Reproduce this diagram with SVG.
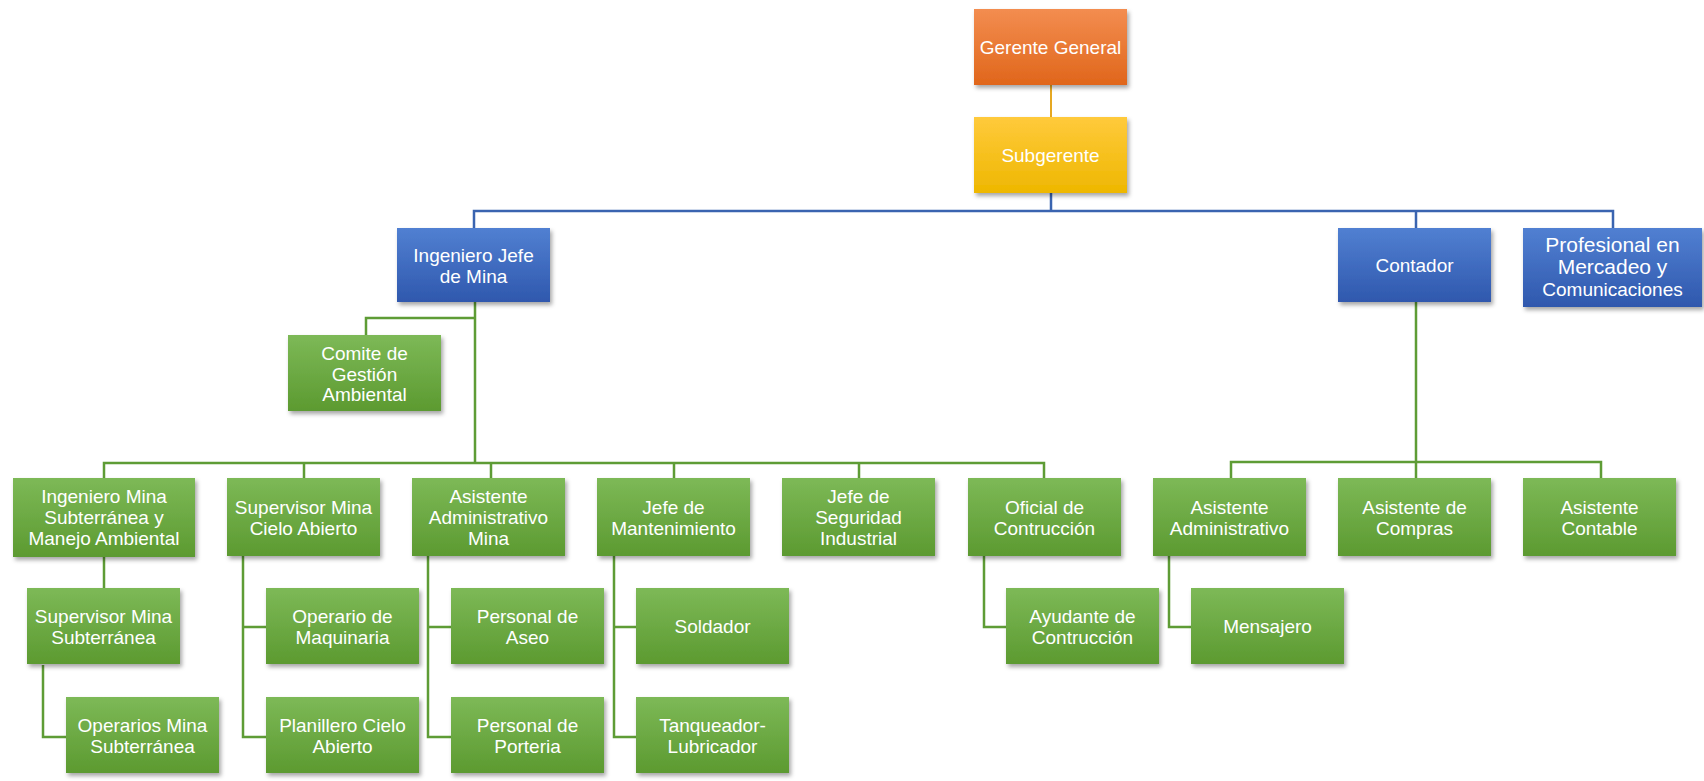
<svg xmlns="http://www.w3.org/2000/svg" width="1704" height="781" viewBox="0 0 1704 781">
<defs>
<linearGradient id="gGreen" x1="0" y1="0" x2="0" y2="1"><stop offset="0" stop-color="#7db957"/><stop offset="1" stop-color="#5c9a30"/></linearGradient>
<linearGradient id="gBlue" x1="0" y1="0" x2="0" y2="1"><stop offset="0" stop-color="#5180d2"/><stop offset="1" stop-color="#2f58ad"/></linearGradient>
<linearGradient id="gOrange" x1="0" y1="0" x2="0" y2="1"><stop offset="0" stop-color="#f38d50"/><stop offset="1" stop-color="#e0661b"/></linearGradient>
<linearGradient id="gYellow" x1="0" y1="0" x2="0" y2="1"><stop offset="0" stop-color="#ffca3c"/><stop offset="1" stop-color="#eeb700"/></linearGradient>
<filter id="sh" x="-10%" y="-10%" width="125%" height="130%"><feDropShadow dx="2" dy="3" stdDeviation="2" flood-color="#000" flood-opacity="0.35"/></filter>
</defs>
<style>
.box{filter:url(#sh)}
.green{fill:url(#gGreen)}
.blue{fill:url(#gBlue)}
.orange{fill:url(#gOrange)}
.yellow{fill:url(#gYellow)}
text{font-family:"Liberation Sans",Arial,sans-serif;font-size:19px;fill:#ffffff;text-anchor:middle}
.big{font-size:21px}
.cg{fill:none;stroke:#5e9c35;stroke-width:2.5}
.cb{fill:none;stroke:#3a64b0;stroke-width:2.5}
.co{fill:none;stroke:#e6a822;stroke-width:2}
</style>
<rect width="1704" height="781" fill="#ffffff"/>
<g id="connectors">
<path class="co" d="M1051 85V117"/>
<path class="cb" d="M1051 193V211M474 228V211H1613V228M1416 211V228"/>
<path class="cg" d="M475 302V463M475 318H366V335M104 478V463H1044V478M304 463V478M491 463V478M674 463V478M859 463V478"/>
<path class="cg" d="M1416 302V478M1231 478V462H1601V478"/>
<path class="cg" d="M104 557V588M43 665V737H66"/>
<path class="cg" d="M243 556V737H266M243 627H266"/>
<path class="cg" d="M428 556V737H451M428 627H451"/>
<path class="cg" d="M614 556V737H636M614 627H636"/>
<path class="cg" d="M984 556V627H1006"/>
<path class="cg" d="M1169 556V627H1191"/>
</g>
<g id="gerente"><rect class="box orange" x="974" y="9" width="153" height="76"/><text x="1050.5" y="54">Gerente General</text></g>
<g id="subgerente"><rect class="box yellow" x="974" y="117" width="153" height="76"/><text x="1050.5" y="162">Subgerente</text></g>
<g id="ing-jefe"><rect class="box blue" x="397" y="228" width="153" height="74"/><text x="473.5" y="262">Ingeniero Jefe</text><text x="473.5" y="283">de Mina</text></g>
<g id="contador"><rect class="box blue" x="1338" y="228" width="153" height="74"/><text x="1414.5" y="272">Contador</text></g>
<g id="profesional"><rect class="box blue" x="1523" y="228" width="179" height="79"/><text class="big" x="1612.5" y="252">Profesional en</text><text class="big" x="1612.5" y="274">Mercadeo y</text><text x="1612.5" y="296">Comunicaciones</text></g>
<g id="comite"><rect class="box green" x="288" y="335" width="153" height="76"/><text x="364.5" y="360">Comite  de</text><text x="364.5" y="381">Gestión</text><text x="364.5" y="401">Ambiental</text></g>
<g id="ing-mina"><rect class="box green" x="13" y="478" width="182" height="79"/><text x="104" y="503">Ingeniero Mina</text><text x="104" y="524">Subterránea y</text><text x="104" y="545">Manejo  Ambiental</text></g>
<g id="sup-cielo"><rect class="box green" x="227" y="478" width="153" height="78"/><text x="303.5" y="513.5">Supervisor Mina</text><text x="303.5" y="534.5">Cielo  Abierto</text></g>
<g id="asist-adm-mina"><rect class="box green" x="412" y="478" width="153" height="78"/><text x="488.5" y="503">Asistente</text><text x="488.5" y="524">Administrativo</text><text x="488.5" y="545">Mina</text></g>
<g id="jefe-mant"><rect class="box green" x="597" y="478" width="153" height="78"/><text x="673.5" y="513.5">Jefe de</text><text x="673.5" y="534.5">Mantenimiento</text></g>
<g id="jefe-seg"><rect class="box green" x="782" y="478" width="153" height="78"/><text x="858.5" y="503">Jefe de</text><text x="858.5" y="524">Seguridad</text><text x="858.5" y="545">Industrial</text></g>
<g id="oficial"><rect class="box green" x="968" y="478" width="153" height="78"/><text x="1044.5" y="513.5">Oficial de</text><text x="1044.5" y="534.5">Contrucción</text></g>
<g id="asist-adm"><rect class="box green" x="1153" y="478" width="153" height="78"/><text x="1229.5" y="513.5">Asistente</text><text x="1229.5" y="534.5">Administrativo</text></g>
<g id="asist-compras"><rect class="box green" x="1338" y="478" width="153" height="78"/><text x="1414.5" y="513.5">Asistente de</text><text x="1414.5" y="534.5">Compras</text></g>
<g id="asist-contable"><rect class="box green" x="1523" y="478" width="153" height="78"/><text x="1599.5" y="513.5">Asistente</text><text x="1599.5" y="534.5">Contable</text></g>
<g id="sup-subt"><rect class="box green" x="27" y="588" width="153" height="76"/><text x="103.5" y="622.5">Supervisor Mina</text><text x="103.5" y="643.5">Subterránea</text></g>
<g id="operario-maq"><rect class="box green" x="266" y="588" width="153" height="76"/><text x="342.5" y="622.5">Operario de</text><text x="342.5" y="643.5">Maquinaria</text></g>
<g id="aseo"><rect class="box green" x="451" y="588" width="153" height="76"/><text x="527.5" y="622.5">Personal de</text><text x="527.5" y="643.5">Aseo</text></g>
<g id="soldador"><rect class="box green" x="636" y="588" width="153" height="76"/><text x="712.5" y="633">Soldador</text></g>
<g id="ayudante"><rect class="box green" x="1006" y="588" width="153" height="76"/><text x="1082.5" y="622.5">Ayudante de</text><text x="1082.5" y="643.5">Contrucción</text></g>
<g id="mensajero"><rect class="box green" x="1191" y="588" width="153" height="76"/><text x="1267.5" y="633">Mensajero</text></g>
<g id="operarios-mina"><rect class="box green" x="66" y="697" width="153" height="76"/><text x="142.5" y="731.5">Operarios Mina</text><text x="142.5" y="752.5">Subterránea</text></g>
<g id="planillero"><rect class="box green" x="266" y="697" width="153" height="76"/><text x="342.5" y="731.5">Planillero  Cielo</text><text x="342.5" y="752.5">Abierto</text></g>
<g id="porteria"><rect class="box green" x="451" y="697" width="153" height="76"/><text x="527.5" y="731.5">Personal de</text><text x="527.5" y="752.5">Porteria</text></g>
<g id="tanqueador"><rect class="box green" x="636" y="697" width="153" height="76"/><text x="712.5" y="731.5">Tanqueador-</text><text x="712.5" y="752.5">Lubricador</text></g>
</svg>
